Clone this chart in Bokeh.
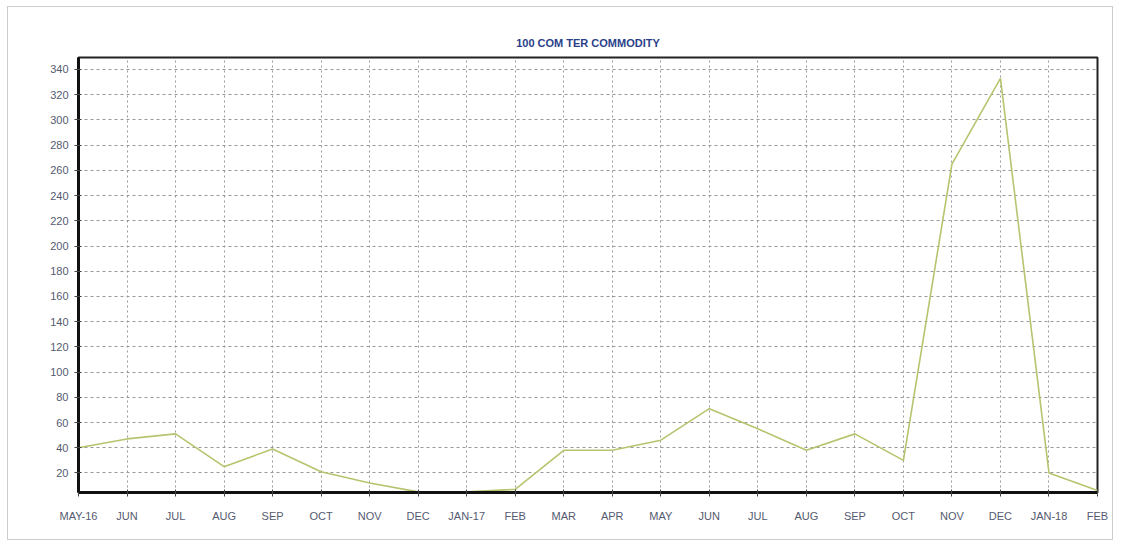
from bokeh.plotting import figure
from bokeh.models import Range1d, FixedTicker, ColumnDataSource
from bokeh.embed import file_html
from bokeh.resources import INLINE

months = ["MAY-16", "JUN", "JUL", "AUG", "SEP", "OCT", "NOV", "DEC", "JAN-17", "FEB",
          "MAR", "APR", "MAY", "JUN", "JUL", "AUG", "SEP", "OCT", "NOV", "DEC", "JAN-18", "FEB"]
values = [40, 47, 51, 25, 39, 21, 12, 5, 5, 7,
          38, 38, 46, 71, 55, 38, 51, 30, 265, 333, 20, 6]
y_ticks = [20, 40, 60, 80, 100, 120, 140, 160, 180, 200, 220, 240, 260, 280, 300, 320, 340]

idx = list(range(len(months)))
src = ColumnDataSource(dict(x=idx, y=values))

p = figure(width=1106, height=534, output_backend="svg", toolbar_location=None,
           x_range=Range1d(0, len(months) - 1), y_range=Range1d(4.5, 349.5),
           min_border_left=70, min_border_right=17, min_border_top=50, min_border_bottom=49)

p.title.text = "100 COM TER COMMODITY"
p.title.align = "center"
p.title.text_color = "#2a3f8a"
p.title.text_font = "Liberation Sans"
p.title.text_font_size = "11px"
p.title.text_font_style = "bold"
p.title.standoff = 18

p.line("x", "y", source=src, line_color="#b9c36e", line_width=1.6)

p.xaxis.ticker = FixedTicker(ticks=idx)
p.xaxis.major_label_overrides = {i: m for i, m in enumerate(months)}
p.yaxis.ticker = FixedTicker(ticks=y_ticks)

for ax in (p.xaxis[0], p.yaxis[0]):
    ax.axis_line_width = 3
    ax.axis_line_color = "#111111"
    ax.major_label_text_font = "Liberation Sans"
    ax.major_label_text_font_size = "11px"
    ax.major_label_text_color = "#555a70"
    ax.major_tick_line_color = "#444444"
    ax.major_tick_in = 3
    ax.major_tick_out = 4
    ax.minor_tick_line_color = None

p.xaxis.major_label_standoff = 13
p.yaxis.major_label_standoff = 6

p.outline_line_color = "#222222"
p.outline_line_width = 2

p.xgrid.grid_line_color = "#999999"
p.xgrid.grid_line_dash = "2 3"
p.xgrid.grid_line_width = 1
p.ygrid.grid_line_color = "#999999"
p.ygrid.grid_line_dash = "3 3"
p.ygrid.grid_line_width = 1

p.background_fill_color = "white"
p.border_fill_color = "white"
p.styles = {"border": "1px solid #cccccc", "margin-left": "7px", "margin-top": "6px"}

open("out.html", "w").write(file_html(p, INLINE))
